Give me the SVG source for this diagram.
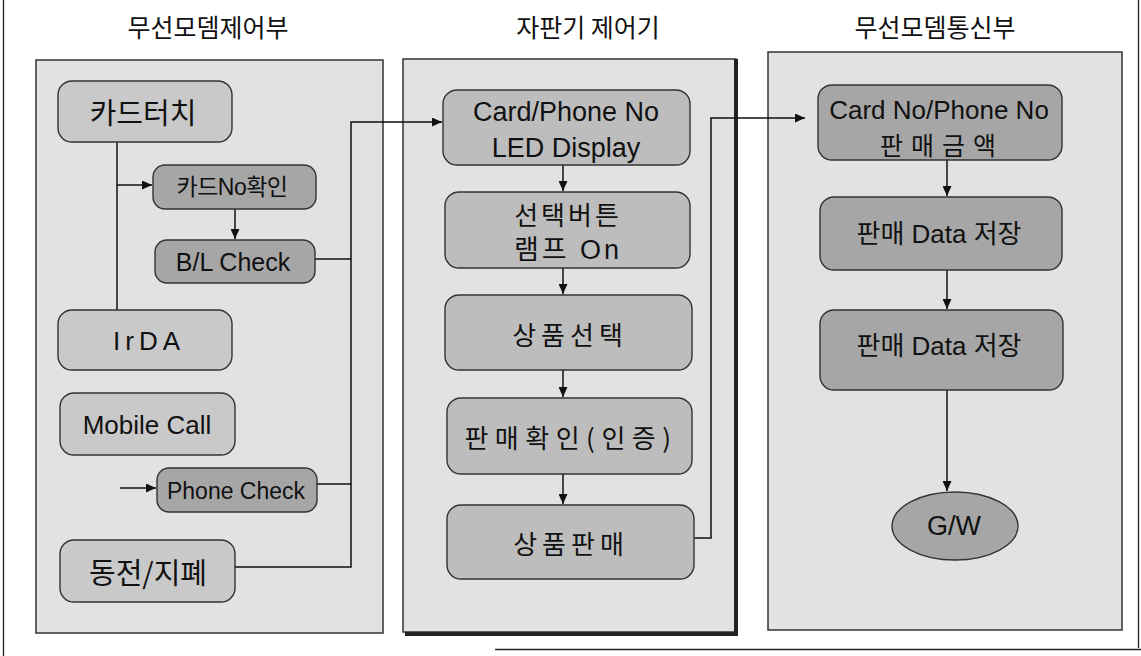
<svg xmlns="http://www.w3.org/2000/svg" width="1141" height="656" viewBox="0 0 1141 656">
<style>
.frame{fill:none;stroke:#222;stroke-width:1.3}
.panel{fill:#e2e2e2;stroke:#333;stroke-width:1.5}
.light{fill:#c9c9c9;stroke:#333;stroke-width:1.4}
.mid{fill:#bdbdbd;stroke:#333;stroke-width:1.4}
.dark{fill:#a6a6a6;stroke:#333;stroke-width:1.4}
.title{font-family:"Noto Sans CJK KR","Liberation Sans",sans-serif;font-size:25px;fill:#111;text-anchor:middle}
.ko{font-family:"Noto Sans CJK KR",sans-serif;fill:#111;text-anchor:middle;dominant-baseline:central}
.en{font-family:"Liberation Sans","Noto Sans CJK KR",sans-serif;fill:#111;text-anchor:middle;dominant-baseline:central}
.con{fill:none;stroke:#111;stroke-width:1.5}
</style>
<defs>
<marker id="arr" markerUnits="userSpaceOnUse" markerWidth="10" markerHeight="9" refX="10" refY="4.5" orient="auto">
<path d="M0,0 L10,4.5 L0,9 z" fill="#111"/>
</marker>
</defs>
<rect width="1141" height="656" fill="#fff"/>
<g id="frame">
<path class="frame" d="M3.5,0 V656"/>
<path class="frame" d="M1138.5,0 V648"/>
<path class="frame" d="M495,649.5 H1141"/>
</g>
<g id="titles">
<text class="title" x="208" y="37">무선모뎀제어부</text>
<text class="title" x="588" y="37">자판기 제어기</text>
<text class="title" x="935" y="37">무선모뎀통신부</text>
</g>
<g id="panels">
<rect id="panel-left" class="panel" x="36" y="60" width="347" height="573"/>
<rect id="panel-mid" class="panel" x="403" y="59" width="333" height="573"/>
<path d="M736,59 V634 H405" fill="none" stroke="#222" stroke-width="4"/>
<rect id="panel-right" class="panel" x="768" y="52" width="354" height="578"/>
</g>
<g id="connectors">
<path class="con" d="M117,142 V310"/>
<path class="con" d="M117,185 H152" marker-end="url(#arr)"/>
<path class="con" d="M235,209 V239" marker-end="url(#arr)"/>
<path class="con" d="M315,259 H351"/>
<path class="con" d="M317,484 H351"/>
<path class="con" d="M235,567 H351 V122 H442" marker-end="url(#arr)"/>
<path class="con" d="M120,488 H156" marker-end="url(#arr)"/>
<path class="con" d="M563,165 V191" marker-end="url(#arr)"/>
<path class="con" d="M563,268 V294" marker-end="url(#arr)"/>
<path class="con" d="M563,370 V397" marker-end="url(#arr)"/>
<path class="con" d="M563,474 V504" marker-end="url(#arr)"/>
<path class="con" d="M694,538 H711 V118 H805" marker-end="url(#arr)"/>
<path class="con" d="M947,160 V196" marker-end="url(#arr)"/>
<path class="con" d="M947,270 V309" marker-end="url(#arr)"/>
<path class="con" d="M947,390 V491" marker-end="url(#arr)"/>
</g>
<g id="n-cardtouch">
<rect class="light" x="58" y="81" width="174" height="61" rx="14"/>
<text class="ko" x="143" y="111" font-size="29">카드터치</text>
</g>
<g id="n-cardno">
<rect class="dark" x="153" y="165" width="163" height="44" rx="12"/>
<text class="en" x="232" y="187" font-size="23" letter-spacing="-0.5">카드No확인</text>
</g>
<g id="n-blcheck">
<rect class="dark" x="155" y="240" width="160" height="43" rx="12"/>
<text class="en" x="233" y="262" font-size="25">B/L Check</text>
</g>
<g id="n-irda">
<rect class="light" x="58" y="310" width="174" height="60" rx="14"/>
<text class="en" x="149" y="341" font-size="26" letter-spacing="5">IrDA</text>
</g>
<g id="n-mobile">
<rect class="light" x="60" y="393" width="175" height="62" rx="14"/>
<text class="en" x="147" y="425" font-size="26">Mobile Call</text>
</g>
<g id="n-phonecheck">
<rect class="dark" x="157" y="468" width="160" height="44" rx="12"/>
<text class="en" x="236" y="491" font-size="23">Phone Check</text>
</g>
<g id="n-coin">
<rect class="light" x="60" y="540" width="175" height="62" rx="14"/>
<text class="ko" x="148" y="571" font-size="29">동전/지폐</text>
</g>
<g id="n-led">
<rect class="mid" x="443" y="90" width="247" height="75" rx="14"/>
<text class="en" x="566" y="112" font-size="27">Card/Phone No</text>
<text class="en" x="566" y="148" font-size="27">LED Display</text>
</g>
<g id="n-lamp">
<rect class="mid" x="445" y="192" width="245" height="76" rx="14"/>
<text class="ko" x="568" y="213" font-size="26" letter-spacing="3">선택버튼</text>
<text class="en" x="568" y="250" font-size="27" letter-spacing="3">램프 On</text>
</g>
<g id="n-select">
<rect class="mid" x="445" y="295" width="247" height="75" rx="14"/>
<text class="ko" x="570" y="333" font-size="26" letter-spacing="5">상품선택</text>
</g>
<g id="n-confirm">
<rect class="mid" x="447" y="398" width="245" height="76" rx="14"/>
<text class="ko" x="571" y="436" font-size="26" letter-spacing="6.5">판매확인(인증)</text>
</g>
<g id="n-sale">
<rect class="mid" x="447" y="505" width="247" height="74" rx="14"/>
<text class="ko" x="571" y="542" font-size="26" letter-spacing="5">상품판매</text>
</g>
<g id="n-amount">
<rect class="dark" x="818" y="85" width="244" height="75" rx="14"/>
<text class="en" x="939" y="110" font-size="26">Card No/Phone No</text>
<text class="ko" x="942" y="144" font-size="25" letter-spacing="8">판매금액</text>
</g>
<g id="n-store1">
<rect class="dark" x="820" y="197" width="242" height="73" rx="14"/>
<text class="en" x="939" y="234" font-size="26">판매 Data 저장</text>
</g>
<g id="n-store2">
<rect class="dark" x="820" y="310" width="243" height="80" rx="14"/>
<text class="en" x="939" y="346" font-size="26">판매 Data 저장</text>
</g>
<g id="n-gw">
<ellipse class="dark" cx="955" cy="526" rx="63" ry="34"/>
<text class="en" x="954" y="526" font-size="27">G/W</text>
</g>
</svg>
